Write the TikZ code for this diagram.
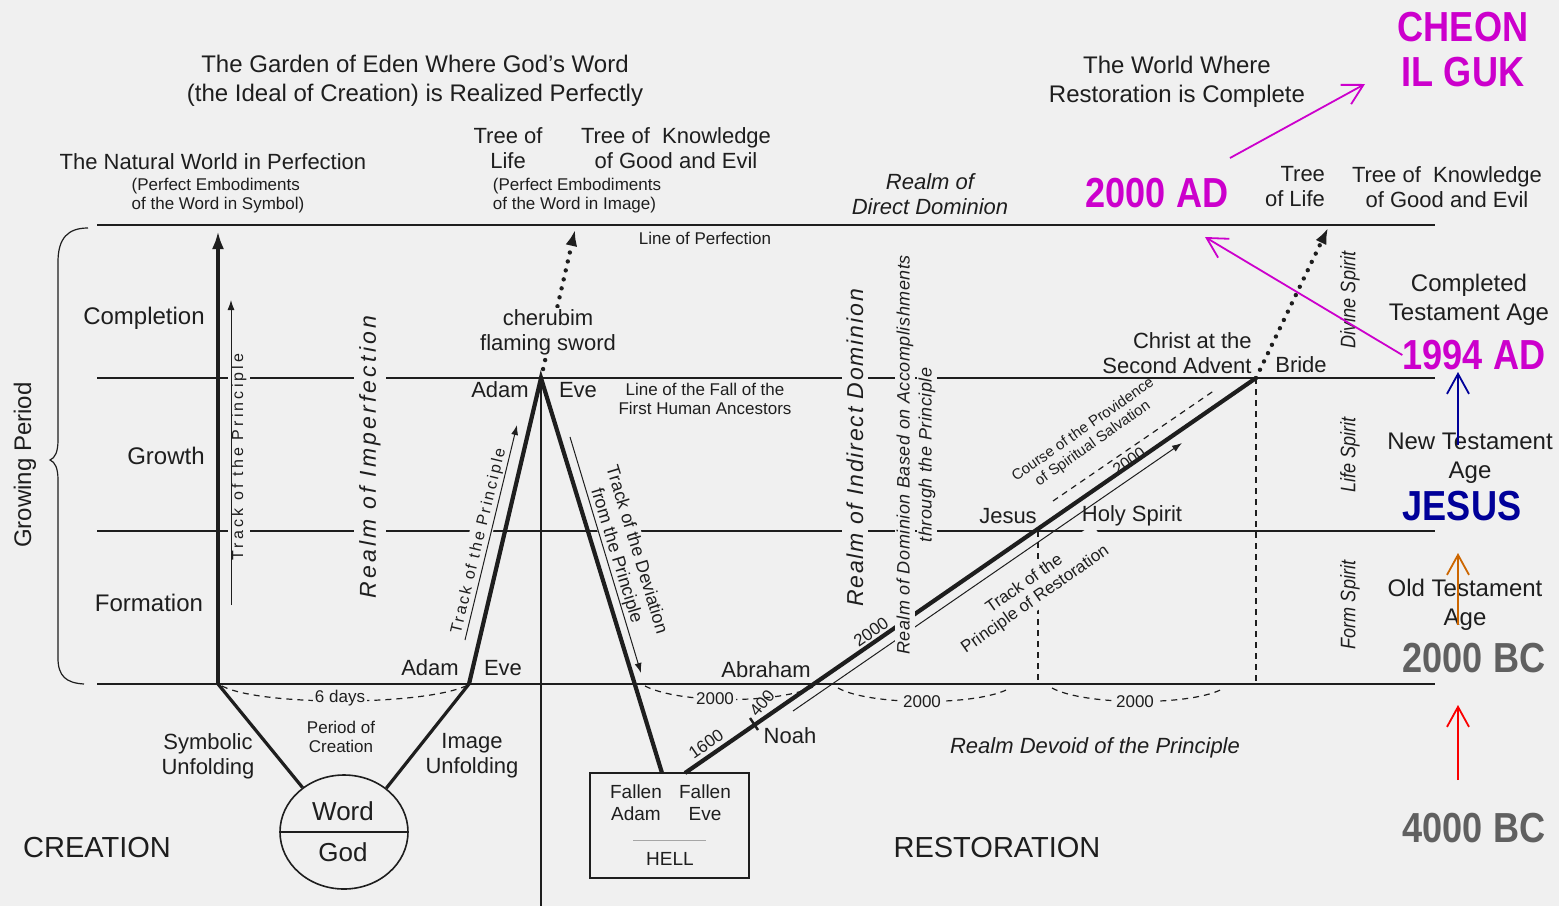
\documentclass[tikz,border=0pt]{standalone}
\usepackage{fontspec}
\setmainfont{Liberation Sans}
\newfontfamily\condfont{Liberation Sans}[FakeStretch=0.86]
\usetikzlibrary{arrows.meta}
\usetikzlibrary{shapes.geometric}

\definecolor{paper}{RGB}{240,240,240}
\definecolor{ink}{RGB}{30,30,30}
\definecolor{cgmag}{RGB}{204,0,204}
\definecolor{cgnavy}{RGB}{0,0,153}
\definecolor{cgorange}{RGB}{204,102,0}
\definecolor{cgred}{RGB}{250,0,0}
\definecolor{cggray}{RGB}{96,96,96}

\tikzset{
lbl/.style={font=\fontsize{12}{14.5}\selectfont, align=center, inner sep=1pt},
who/.style={font=\fontsize{11}{12.5}\selectfont, align=center, inner sep=1pt},
tiny/.style={font=\fontsize{8.5}{9.5}\selectfont, align=center, inner sep=1pt},
realm/.style={rotate=90, fill=paper, inner sep=2.5pt, font=\fontsize{11.5}{13}\selectfont\itshape\addfontfeature{LetterSpace=14}},
trackv/.style={fill=paper, inner sep=2pt, font=\fontsize{8}{9}\selectfont\addfontfeature{LetterSpace=20}},
based/.style={rotate=90, fill=paper, inner sep=1pt, font=\fontsize{9}{11}\selectfont\itshape\addfontfeature{LetterSpace=3}},
spirit/.style={rotate=90, inner sep=1pt, font=\condfont\itshape\fontsize{10.5}{12}\selectfont},
big/.style={font=\condfont\bfseries\fontsize{21}{22.5}\selectfont, align=center, inner sep=0pt},
level/.style={line width=1pt, ink},
heavy/.style={line width=2.1pt, ink},
thinarrow/.style={line width=0.5pt, ink, -{Latex[length=5pt,width=3.5pt]}},
dots/.style={line width=2.2pt, ink, line cap=round, dash pattern=on 0pt off 4.6pt},
dashline/.style={line width=0.6pt, ink, dash pattern=on 3pt off 2.5pt},
chevron/.style={line width=0.9pt, -{Straight Barb[length=10pt,width=11pt]}}
}

\begin{document}
\begin{tikzpicture}[x=0.5pt, y=-0.5pt, every node/.style={text=ink}]

% page
\fill[paper] (0,0) rectangle (1559,906);
\useasboundingbox (0,0) rectangle (1559,906);

% levels of the growing period
\draw[line width=1.4pt, ink] (97,225) -- (1435,225);
\foreach \y in {378,531,684}
  \draw[level] (97,\y) -- (1435,\y);

% points on the course
\coordinate (sfoot) at (218,684);
\coordinate (stop) at (218,231);
\coordinate (lfoot) at (469,684);
\coordinate (apex) at (541,378);
\coordinate (axisend) at (541,906);
\coordinate (fallA) at (662,773);
\coordinate (fallB) at (685,773);
\coordinate (bride) at (1256,378);
\coordinate (brideend) at (1256,684);
\coordinate (jesuspt) at (1038,531);
\coordinate (jesusend) at (1038,684);
\coordinate (cherubtop) at (575,230);
\coordinate (bridetop) at (1328,228);
\coordinate (rs0) at (793,711);
\coordinate (rs1) at (1182,443);
\coordinate (cs0) at (1053,501);
\coordinate (cs1) at (1215,390);

% course of restoration
\draw[heavy] (fallB) -- (bride);
\draw[thinarrow] (rs0) -- (rs1);
\draw[dashline] (bride) -- (brideend);
\draw[dashline] (jesuspt) -- (jesusend);
\draw[dashline] (cs0) -- (cs1);
\draw[dots, -{Latex[length=8pt,width=6pt]}] (apex) -- (cherubtop);
\draw[dots, -{Latex[length=8pt,width=6pt]}] (bride) -- (bridetop);

% spans below the line
\draw[dashline] (222,686) .. controls (260,706) and (420,706) .. (466,686);
\draw[dashline] (645,686) .. controls (680,704) and (780,704) .. (815,686);
\draw[dashline] (838,688) .. controls (870,706) and (980,706) .. (1010,688);
\draw[dashline] (1052,688) .. controls (1085,706) and (1195,706) .. (1224,688);
\node[tiny, fill=paper] (days) at (340,698) {6 days};
\node[tiny, fill=paper] (span1) at (715,699) {2000};
\node[tiny, fill=paper] (span2) at (922,702) {2000};
\node[tiny, fill=paper] (span3) at (1135,702) {2000};

% realms and tracks written across the lines
\node[trackv, rotate=90] (trackA) at (239,457) {Track of the Principle};
\node[realm] (imperf) at (370,457) {Realm of Imperfection};
\node[realm, font=\fontsize{11.5}{13}\selectfont\itshape\addfontfeature{LetterSpace=8}] (indirect) at (855,448) {Realm of Indirect Dominion};
\node[based] (based1) at (905,455) {Realm of Dominion Based on Accomplishments};
\node[based] (based2) at (927,455) {through the Principle};
\node[trackv, rotate=76.4, font=\fontsize{8}{9}\selectfont\addfontfeature{LetterSpace=14}] (trackB) at (479,541) {Track of the Principle};
\node[tiny, rotate=-73, fill=paper, font=\fontsize{9}{10.5}\selectfont] (deviate) at (626,553) {Track of the Deviation\\from the Principle};
\node[tiny, rotate=35, fill=paper] (restore) at (1030,592) {Track of the\\Principle of Restoration};
\node[who, fill=paper, inner sep=0.5pt] (cherub) at (548,332) {cherubim\\flaming sword};

% creation and fall
\draw[heavy, -{Latex[length=9pt,width=6pt]}] (sfoot) -- (stop);
\draw[thinarrow] (231,605) -- (231,300);
\draw[line width=0.8pt, ink] (apex) -- (axisend);
\draw[heavy] (lfoot) -- (apex) -- (fallA);
\draw[thinarrow] (465,640) -- (517,425);
\draw[thinarrow] (570,437) -- (641,673);
\draw[line width=1.2pt, ink] (750,718) -- (758,730);

\node[ellipse, draw=ink, line width=0.8pt, minimum width=64pt, minimum height=57pt, inner sep=0pt] (god) at (344,832) {};
\draw[line width=0.6pt, ink] (god.west) -- (god.east);
\draw[line width=1.6pt, ink] (sfoot) -- (god.133);
\draw[line width=1.6pt, ink] (lfoot) -- (god.46);
\node[font=\fontsize{13}{15}\selectfont] (word) at (343,811) {Word};
\node[font=\fontsize{13}{15}\selectfont] (godtxt) at (343,852) {God};

\node[draw=ink, line width=0.8pt, minimum width=79.5pt, minimum height=52.5pt, inner sep=0pt] (hell) at (669.5,825.5) {};
\draw[line width=0.4pt, gray!70] (633,840) -- (706,840);
\node[who, font=\fontsize{9.5}{11}\selectfont] (fadam) at (636,803) {Fallen\\Adam};
\node[who, font=\fontsize{9.5}{11}\selectfont] (feve) at (705,803) {Fallen\\Eve};
\node[who, font=\fontsize{9.5}{11}\selectfont] (helltxt) at (670,859) {HELL};

% titles on top
\node[lbl] (eden) at (415,81) {The Garden of Eden Where God's Word\\(the Ideal of Creation) is Realized Perfectly};
\node[who] (natural) at (213,162) {The Natural World in Perfection};
\node[tiny, align=left] (symb) at (218,196) {(Perfect Embodiments\\of the Word in Symbol)};
\node[who] (tlife) at (508,148) {Tree of\\Life};
\node[who] (tknow) at (676,148) {Tree of~ Knowledge\\of Good and Evil};
\node[tiny, align=left] (image) at (577,196) {(Perfect Embodiments\\of the Word in Image)};
\node[tiny] (lperf) at (705,238) {Line of Perfection};
\node[lbl] (world) at (1177,82) {The World Where\\Restoration is Complete};
\node[who, font=\fontsize{11}{12.5}\selectfont\itshape] (direct) at (930,194) {Realm of\\Direct Dominion};
\node[who, align=right] (tlife2) at (1295,187) {Tree\\of Life};
\node[who] (tknow2) at (1447,187) {Tree of~ Knowledge\\of Good and Evil};

% stages
\node[lbl, rotate=90] (growing) at (25,465) {Growing Period};
\draw[line width=0.6pt, ink] (88,228) .. controls (68,228) and (58,238) .. (58,262) -- (58,440)
  .. controls (58,452) and (55,458) .. (50,460) .. controls (55,462) and (58,468) .. (58,480)
  -- (58,658) .. controls (58,676) and (66,683) .. (84,684);
\node[lbl] (completion) at (144,318) {Completion};
\node[lbl] (growth) at (166,456) {Growth};
\node[lbl] (formation) at (149,603) {Formation};

% people on the course
\node[who] (adam1) at (500,390) {Adam};
\node[who] (eve1) at (578,390) {Eve};
\node[tiny] (fallline) at (705,399) {Line of the Fall of the\\First Human Ancestors};
\node[who] (adam0) at (430,668) {Adam};
\node[who] (eve0) at (503,668) {Eve};
\node[who] (symbolic) at (208,756) {Symbolic\\Unfolding};
\node[who] (imageunf) at (472,756) {Image\\Unfolding};
\node[tiny] (period) at (341,737) {Period of\\Creation};
\node[who] (abraham) at (766,670) {Abraham};
\node[who] (noah) at (790,736) {Noah};
\node[tiny, rotate=35] (n1600) at (706,744) {1600};
\node[tiny, rotate=50] (n400) at (762,703) {400};
\node[tiny, rotate=35] (n2000a) at (871,632) {2000};
\node[tiny, rotate=35, font=\fontsize{8}{9}\selectfont, inner sep=0pt] (n2000b) at (1129,461) {2000};
\node[tiny, rotate=35, font=\fontsize{7.5}{8.5}\selectfont] (course) at (1088,437) {Course of the Providence\\of Spiritual Salvation};
\node[who] (jesus) at (1008,516) {Jesus};
\node[who] (holy) at (1132,516) {Holy Spirit};
\node[who, align=right, anchor=east] (christ) at (1254,353) {Christ at the\\Second Advent};
\node[who] (bridetxt) at (1301,365) {Bride};
\node[who, font=\fontsize{11}{12.5}\selectfont\itshape] (devoid) at (1095,748) {Realm Devoid of the Principle};
\node[font=\fontsize{14.5}{16}\selectfont] (creation) at (97,848) {CREATION};
\node[font=\fontsize{14.5}{16}\selectfont] (restoration) at (997,848) {RESTORATION};

% spirits and ages
\node[spirit] (divine) at (1350,300) {Divine Spirit};
\node[spirit] (life) at (1350,455) {Life Spirit};
\node[spirit] (form) at (1350,605) {Form Spirit};
\node[lbl] (cta) at (1469,300) {Completed\\Testament Age};
\node[lbl] (nta) at (1470,458) {New Testament\\Age};
\node[lbl] (ota) at (1465,605) {Old Testament\\Age};

% dates added in colour
\node[big, text=cgmag] (cheon) at (1463,50) {CHEON\\IL GUK};
\node[big, text=cgmag] (ad2000) at (1157,193) {2000 AD};
\node[big, text=cgmag] (ad1994) at (1474,355) {1994 AD};
\node[big, text=cgnavy] (jesusbig) at (1462,506) {JESUS};
\node[big, text=cggray] (bc2000) at (1474,658) {2000 BC};
\node[big, text=cggray] (bc4000) at (1474,828) {4000 BC};

\coordinate (cheontip) at (1365,84);
\coordinate (cheonfoot) at (1230,158);
\coordinate (perftip) at (1205,237);
\coordinate (ntip) at (1458,372);
\coordinate (nfoot) at (1458,445);
\coordinate (otip) at (1458,553);
\coordinate (ofoot) at (1458,625);
\coordinate (rtip) at (1458,705);
\coordinate (rfoot) at (1458,780);

\draw[chevron, cgmag] (cheonfoot) -- (cheontip);
\draw[chevron, cgmag] (ad1994.west) -- (perftip);
\draw[chevron, cgnavy] (nfoot) -- (ntip);
\draw[chevron, cgorange] (ofoot) -- (otip);
\draw[chevron, cgred] (rfoot) -- (rtip);
\end{tikzpicture}
\end{document}
